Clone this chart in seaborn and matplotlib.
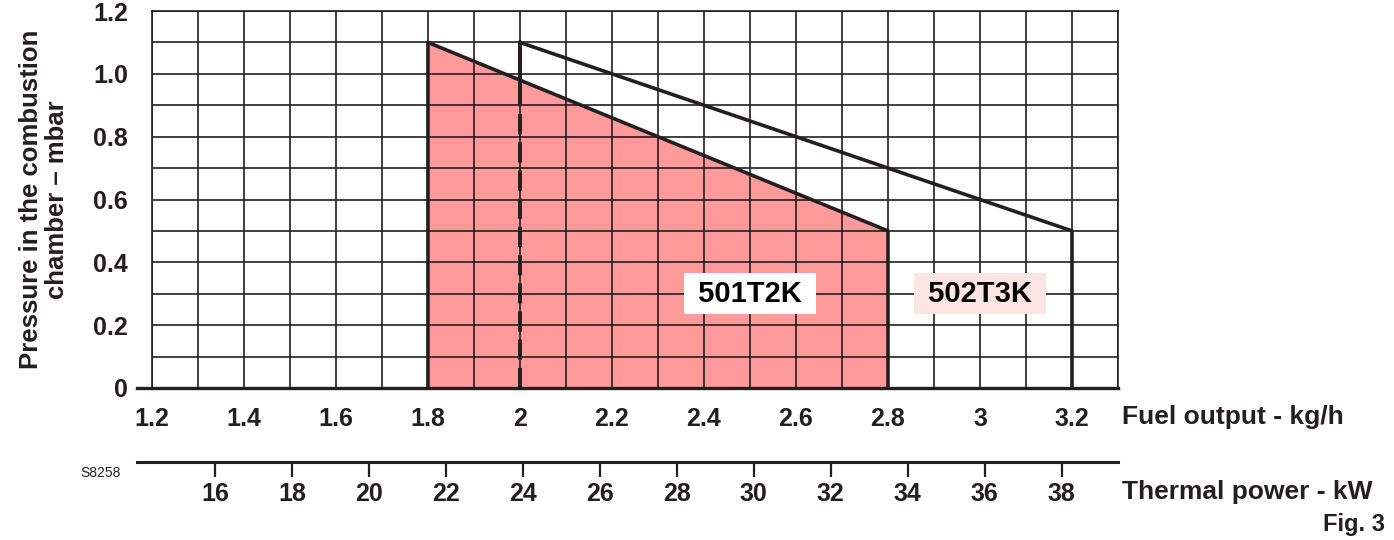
import numpy as np
import pandas as pd
import seaborn as sns
import matplotlib.pyplot as plt

# working range outlines (fuel output kg/h vs chamber pressure mbar)
fuel_501 = [1.8, 1.8, 2.8, 2.8]
pres_501 = [0.0, 1.1, 0.5, 0.0]
fuel_502 = [2.0, 3.2, 3.2]
pres_502 = [1.1, 0.5, 0.0]
fuel_502_edge = [2.0, 2.0]
pres_502_dash = [0.0, 0.95]
pres_502_solid = [0.95, 1.1]

models = ['501T2K', '502T3K']
model_x = [2.5, 3.0]
model_y = [0.3, 0.3]

x_ticks = [1.2, 1.4, 1.6, 1.8, 2.0, 2.2, 2.4, 2.6, 2.8, 3.0, 3.2]
x_labels = ['1.2', '1.4', '1.6', '1.8', '2', '2.2', '2.4', '2.6', '2.8', '3', '3.2']
x_minor = [1.3, 1.5, 1.7, 1.9, 2.1, 2.3, 2.5, 2.7, 2.9, 3.1, 3.3]
y_ticks = [0.0, 0.2, 0.4, 0.6, 0.8, 1.0, 1.2]
y_labels = ['0', '0.2', '0.4', '0.6', '0.8', '1.0', '1.2']
y_minor = [0.1, 0.3, 0.5, 0.7, 0.9, 1.1]
kw_ticks = [16, 18, 20, 22, 24, 26, 28, 30, 32, 34, 36, 38]
kw_per_kgh = 11.96

dark = '#231F20'
pink = '#FF9A9A'

sns.set_style('white')
plt.rcParams['font.family'] = ['Liberation Sans', 'DejaVu Sans']
plt.rcParams['font.weight'] = 'bold'
plt.rcParams['axes.labelweight'] = 'bold'
plt.rcParams['text.color'] = dark
plt.rcParams['axes.labelcolor'] = dark
plt.rcParams['xtick.color'] = dark
plt.rcParams['ytick.color'] = dark

fig = plt.figure(figsize=(13.94, 5.4), dpi=100)
ax = fig.add_axes([0.109, 0.2815, 0.693, 0.6981])

ax.fill(fuel_501, pres_501, color=pink, lw=0, zorder=1)
sns.lineplot(x=fuel_501, y=pres_501, sort=False, estimator=None, color=dark, lw=2.6, ax=ax, zorder=4)
sns.lineplot(x=fuel_502, y=pres_502, sort=False, estimator=None, color=dark, lw=2.6, ax=ax, zorder=4)
sns.lineplot(x=fuel_502_edge, y=pres_502_solid, sort=False, estimator=None, color=dark, lw=2.9, ax=ax, zorder=4)
sns.lineplot(x=fuel_502_edge, y=pres_502_dash, sort=False, estimator=None, color=dark, lw=2.9,
             linestyle=(0, (5, 2)), ax=ax, zorder=4)

ax.text(model_x[0], model_y[0], ' ' + models[0] + ' ', ha='center', va='center', fontsize=21,
        color='black', bbox=dict(boxstyle='square,pad=0.22', fc='white', ec='none'), zorder=6)
ax.text(model_x[1], model_y[1], ' ' + models[1] + ' ', ha='center', va='center', fontsize=21,
        color='black', bbox=dict(boxstyle='square,pad=0.22', fc='#FDE4E5', ec='none'), zorder=6)

ax.set_xlim(1.2, 3.3)
ax.set_ylim(0, 1.2)
ax.set_xticks(x_ticks, x_labels)
ax.set_xticks(x_minor, minor=True)
ax.set_yticks(y_ticks, y_labels)
ax.set_yticks(y_minor, minor=True)
ax.set_axisbelow(False)
ax.grid(which='both', color=dark, lw=1.2)
ax.tick_params(which='major', direction='out', length=10.8, width=1.3, color=dark, labelsize=18)
ax.tick_params(axis='x', which='major', pad=3)
ax.tick_params(axis='y', which='major', pad=6.5)
ax.tick_params(which='minor', length=0)
for side in ['left', 'right', 'top']:
    ax.spines[side].set_color(dark)
    ax.spines[side].set_linewidth(1.2)
ax.spines['bottom'].set_color(dark)
ax.spines['bottom'].set_linewidth(2.4)
ax.spines['bottom'].set_bounds(1.167, 3.3)

ax.set_ylabel('Pressure in the combustion\nchamber \u2013 mbar', fontsize=18.5, fontweight='bold', linespacing=1.1)
ax.yaxis.set_label_coords(-0.086, 0.5)

sec = ax.secondary_xaxis(-0.196, functions=(lambda f: f * kw_per_kgh, lambda p: p / kw_per_kgh))
sec.set_xticks(kw_ticks, [str(k) for k in kw_ticks])
sec.tick_params(direction='out', length=10.8, width=1.6, color=dark, labelsize=18, pad=4)
sec.spines['bottom'].set_color(dark)
sec.spines['bottom'].set_linewidth(2.2)
sec.spines['bottom'].set_bounds(1.167 * kw_per_kgh, 3.3 * kw_per_kgh)

fig.text(1122 / 1394, 1 - 417 / 540, 'Fuel output - kg/h', ha='left', va='center', fontsize=19)
fig.text(1122 / 1394, 1 - 492 / 540, 'Thermal power - kW', ha='left', va='center', fontsize=19)
fig.text(1385 / 1394, 1 - 525 / 540, 'Fig. 3', ha='right', va='center', fontsize=17)
fig.text(80 / 1394, 1 - 473 / 540, 'S8258', ha='left', va='center', fontsize=10, fontweight='normal')

plt.savefig('out.png', dpi=100)
